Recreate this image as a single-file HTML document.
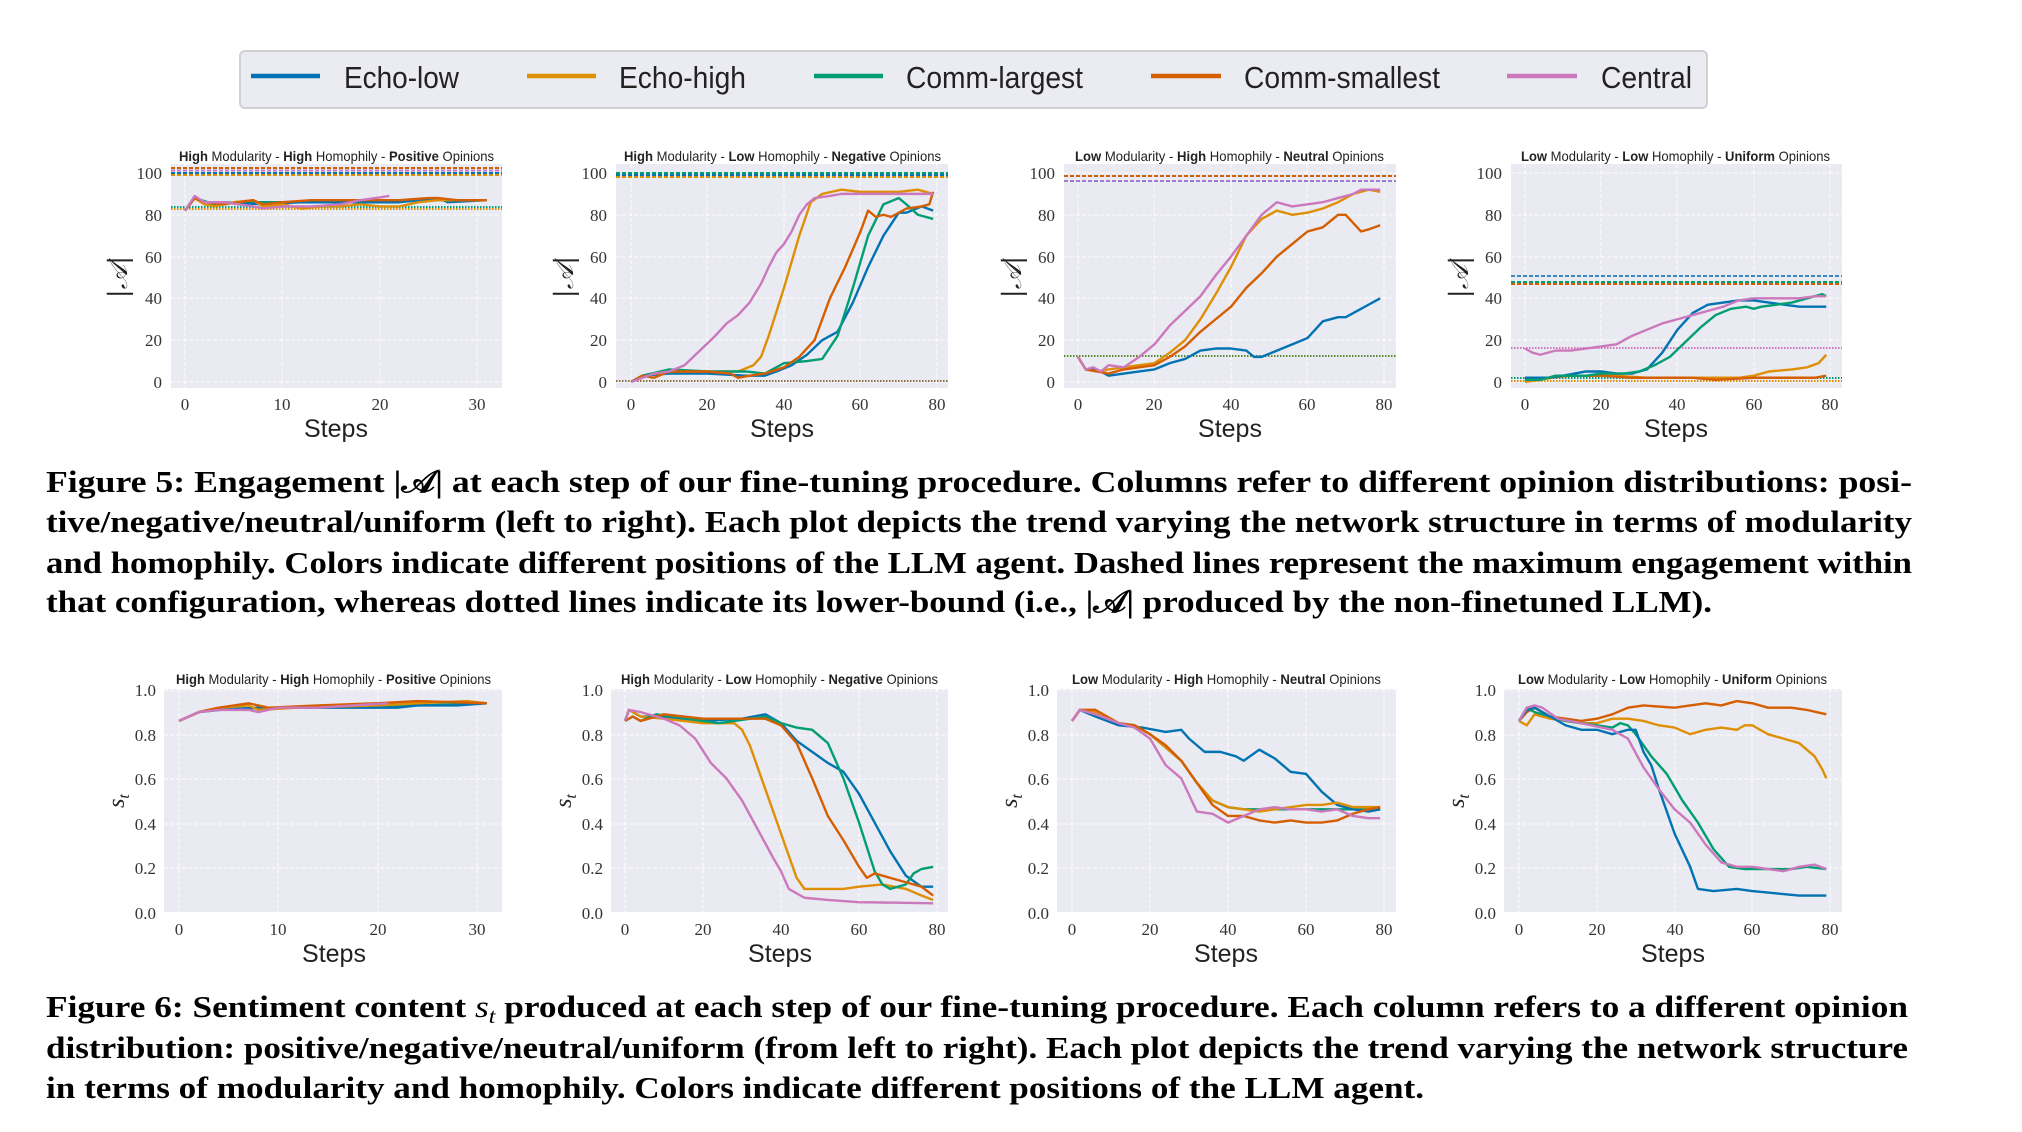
<!DOCTYPE html>
<html><head><meta charset="utf-8"><style>
html,body{margin:0;padding:0;background:#fff;}
svg{display:block;}
.tk{font-family:"Liberation Serif",serif;font-size:17px;fill:#333;}
.st{font-family:"Liberation Sans Narrow","Liberation Sans",sans-serif;font-size:25px;fill:#222;}
.ti{font-family:"Liberation Sans Narrow","Liberation Sans",sans-serif;font-size:14px;fill:#222;}
.cap{font-family:"Liberation Serif","DejaVu Serif",serif;font-size:31px;font-weight:bold;fill:#000;}
.lg{font-family:"Liberation Sans Narrow","Liberation Sans",sans-serif;font-size:31px;fill:#222;}
.d polyline{fill:none;stroke-width:2.4;vector-effect:non-scaling-stroke;stroke-linejoin:round;}
.b{stroke:#0173b2}.o{stroke:#de8f05}.g{stroke:#029e73}.r{stroke:#d55e00}.p{stroke:#cc78bc}
.grid line{stroke:#fff;stroke-width:1;stroke-dasharray:4,2;}
</style></head><body>
<svg width="2022" height="1132" viewBox="0 0 2022 1132" xmlns="http://www.w3.org/2000/svg">
<!-- Legend -->
<rect x="240" y="51" width="1467" height="57" rx="5" fill="#ebebf2" stroke="#cfcfd6" stroke-width="2"/>
<line x1="251" y1="76" x2="320" y2="76" stroke="#0173b2" stroke-width="4.5"/>
<text class="lg" x="344" y="88" textLength="115" lengthAdjust="spacingAndGlyphs">Echo-low</text>
<line x1="527" y1="76" x2="596" y2="76" stroke="#de8f05" stroke-width="4.5"/>
<text class="lg" x="619" y="88" textLength="127" lengthAdjust="spacingAndGlyphs">Echo-high</text>
<line x1="814" y1="76" x2="883" y2="76" stroke="#029e73" stroke-width="4.5"/>
<text class="lg" x="906" y="88" textLength="177" lengthAdjust="spacingAndGlyphs">Comm-largest</text>
<line x1="1151" y1="76" x2="1221" y2="76" stroke="#d55e00" stroke-width="4.5"/>
<text class="lg" x="1244" y="88" textLength="196" lengthAdjust="spacingAndGlyphs">Comm-smallest</text>
<line x1="1507" y1="76" x2="1577" y2="76" stroke="#cc78bc" stroke-width="4.5"/>
<text class="lg" x="1601" y="88" textLength="91" lengthAdjust="spacingAndGlyphs">Central</text>

<!-- ===== TOP ROW ===== -->
<g fill="#eaeaf2">
<rect x="171" y="164" width="331" height="224"/>
<rect x="616" y="164" width="332" height="224"/>
<rect x="1064" y="164" width="332" height="224"/>
<rect x="1511" y="164" width="331" height="224"/>
</g>
<g class="grid">
<line x1="171" x2="502" y1="382" y2="382"/><line x1="171" x2="502" y1="340" y2="340"/><line x1="171" x2="502" y1="298" y2="298"/><line x1="171" x2="502" y1="257" y2="257"/><line x1="171" x2="502" y1="215" y2="215"/><line x1="171" x2="502" y1="173" y2="173"/>
<line x1="185" x2="185" y1="164" y2="388"/><line x1="282" x2="282" y1="164" y2="388"/><line x1="380" x2="380" y1="164" y2="388"/><line x1="477" x2="477" y1="164" y2="388"/>
<line x1="616" x2="948" y1="382" y2="382"/><line x1="616" x2="948" y1="340" y2="340"/><line x1="616" x2="948" y1="298" y2="298"/><line x1="616" x2="948" y1="257" y2="257"/><line x1="616" x2="948" y1="215" y2="215"/><line x1="616" x2="948" y1="173" y2="173"/>
<line x1="631" x2="631" y1="164" y2="388"/><line x1="707" x2="707" y1="164" y2="388"/><line x1="784" x2="784" y1="164" y2="388"/><line x1="860" x2="860" y1="164" y2="388"/><line x1="937" x2="937" y1="164" y2="388"/>
<line x1="1064" x2="1396" y1="382" y2="382"/><line x1="1064" x2="1396" y1="340" y2="340"/><line x1="1064" x2="1396" y1="298" y2="298"/><line x1="1064" x2="1396" y1="257" y2="257"/><line x1="1064" x2="1396" y1="215" y2="215"/><line x1="1064" x2="1396" y1="173" y2="173"/>
<line x1="1078" x2="1078" y1="164" y2="388"/><line x1="1154" x2="1154" y1="164" y2="388"/><line x1="1231" x2="1231" y1="164" y2="388"/><line x1="1307" x2="1307" y1="164" y2="388"/><line x1="1384" x2="1384" y1="164" y2="388"/>
<line x1="1511" x2="1842" y1="382" y2="382"/><line x1="1511" x2="1842" y1="340" y2="340"/><line x1="1511" x2="1842" y1="298" y2="298"/><line x1="1511" x2="1842" y1="257" y2="257"/><line x1="1511" x2="1842" y1="215" y2="215"/><line x1="1511" x2="1842" y1="173" y2="173"/>
<line x1="1525" x2="1525" y1="164" y2="388"/><line x1="1601" x2="1601" y1="164" y2="388"/><line x1="1677" x2="1677" y1="164" y2="388"/><line x1="1754" x2="1754" y1="164" y2="388"/><line x1="1830" x2="1830" y1="164" y2="388"/>
</g>
<!-- reference lines top -->
<g stroke-width="2" fill="none">
<g stroke-dasharray="4,2">
<line x1="171" x2="502" y1="168" y2="168" stroke="#d55e00"/><line x1="171" x2="502" y1="170.5" y2="170.5" stroke="#cc78bc"/><line x1="171" x2="502" y1="173" y2="173" stroke="#0173b2"/><line x1="171" x2="502" y1="175" y2="175" stroke="#de8f05"/>
<line x1="616" x2="948" y1="173" y2="173" stroke="#029e73"/><line x1="616" x2="948" y1="175" y2="175" stroke="#0173b2"/><line x1="616" x2="948" y1="177" y2="177" stroke="#de8f05"/>
<line x1="1064" x2="1396" y1="176" y2="176" stroke="#d55e00"/><line x1="1064" x2="1396" y1="181" y2="181" stroke="#9a7fc8"/>
<line x1="1511" x2="1842" y1="276" y2="276" stroke="#3a8ac0"/><line x1="1511" x2="1842" y1="282" y2="282" stroke="#029e73"/><line x1="1511" x2="1842" y1="284" y2="284" stroke="#d55e00"/>
</g>
<g stroke-dasharray="1.5,1.5">
<line x1="171" x2="502" y1="207" y2="207" stroke="#029e73"/><line x1="171" x2="502" y1="209" y2="209" stroke="#de8f05"/>
<line x1="616" x2="948" y1="381" y2="381" stroke="#8a7040"/>
<line x1="1064" x2="1396" y1="356" y2="356" stroke="#5a8a30"/>
<line x1="1511" x2="1842" y1="348" y2="348" stroke="#cc78bc"/><line x1="1511" x2="1842" y1="378" y2="378" stroke="#029e73"/><line x1="1511" x2="1842" y1="381" y2="381" stroke="#de8f05"/>
</g>
</g>
<!-- series top -->
<svg class="d" x="171" y="164" width="331" height="224" viewBox="-1.44 -104.3 34.01 107.2" preserveAspectRatio="none">
<polyline class="g" points="0,-82 1,-88 3,-85 6,-86 10,-86 16,-86 20,-86 26,-87 31,-87"/>
<polyline class="b" points="0,-82 1,-88 2,-86 4,-86 8,-85 12,-86 16,-86 20,-86 22,-86 24,-87 26,-88 27,-86 31,-87"/>
<polyline class="o" points="0,-82 1,-88 2,-85 3,-84 5,-86 7,-87 8,-84 10,-85 12,-83 14,-84 16,-84 18,-85 20,-84 22,-84 24,-86 26,-87 28,-87 31,-87"/>
<polyline class="r" points="0,-82 1,-88 2,-86 4,-85 7,-87 8,-85 10,-86 13,-87 16,-87 20,-87 22,-87 25,-88 26,-88 28,-87 31,-87"/>
<polyline class="p" points="0,-82 1,-89 2,-86 4,-86 7,-84 8,-83 10,-84 13,-84 16,-85 18,-87 21,-89"/>
</svg>
<svg class="d" x="616" y="164" width="332" height="224" viewBox="-3.92 -104.3 86.8 107.2" preserveAspectRatio="none">
<polyline class="b" points="0,0 3,-3 10,-4 20,-4 30,-3 35,-3 38,-5 42,-8 46,-13 50,-20 54,-24 58,-38 62,-55 66,-70 70,-81 72,-81 76,-84 79,-82"/>
<polyline class="o" points="0,0 3,-3 10,-5 20,-5 28,-5 32,-8 34,-12 36,-22 40,-45 44,-70 47,-86 50,-90 55,-92 60,-91 70,-91 75,-92 79,-90"/>
<polyline class="g" points="0,0 3,-3 10,-6 20,-5 30,-5 35,-4 38,-7 40,-9 46,-10 50,-11 54,-22 58,-45 62,-70 66,-85 70,-88 72,-85 75,-80 79,-78"/>
<polyline class="r" points="0,0 3,-3 6,-2 10,-5 20,-5 26,-4 28,-2 31,-3 35,-4 40,-7 44,-12 48,-20 52,-40 56,-55 60,-72 62,-82 64,-79 66,-80 68,-79 72,-83 76,-84 78,-85 79,-91"/>
<polyline class="p" points="0,0 3,-2 6,-4 10,-5 14,-8 18,-15 22,-22 25,-28 28,-32 31,-38 34,-47 36,-55 38,-62 40,-66 42,-72 44,-80 46,-85 48,-88 52,-89 55,-90 60,-90 79,-90"/>
</svg>
<svg class="d" x="1064" y="164" width="332" height="224" viewBox="-3.66 -104.3 86.8 107.2" preserveAspectRatio="none">
<polyline class="b" points="0,-12 2,-6 4,-6 6,-5 8,-3 12,-4 16,-5 20,-6 24,-9 28,-11 32,-15 36,-16 40,-16 44,-15 46,-12 48,-12 52,-15 56,-18 60,-21 62,-25 64,-29 68,-31 70,-31 74,-35 76,-37 79,-40"/>
<polyline class="o" points="0,-12 2,-6 5,-5 8,-6 12,-7 16,-8 20,-9 24,-14 28,-20 32,-30 36,-42 40,-55 44,-70 48,-78 52,-82 56,-80 60,-81 64,-83 68,-86 72,-90 76,-92 79,-91"/>
<polyline class="r" points="0,-12 2,-6 5,-5 8,-4 12,-6 16,-7 20,-8 24,-12 28,-17 32,-24 36,-30 40,-36 44,-45 48,-52 52,-60 56,-66 60,-72 64,-74 68,-80 70,-80 72,-76 74,-72 76,-73 79,-75"/>
<polyline class="p" points="0,-12 2,-6 4,-7 6,-5 8,-8 12,-7 16,-12 20,-18 24,-27 28,-34 32,-41 36,-51 40,-60 44,-70 48,-80 52,-86 56,-84 60,-85 64,-86 68,-88 72,-90 74,-92 79,-92"/>
</svg>
<svg class="d" x="1511" y="164" width="331" height="224" viewBox="-3.66 -104.3 86.8 107.2" preserveAspectRatio="none">
<polyline class="o" points="0,0 4,-1 10,-3 16,-3 24,-3 32,-2 40,-2 50,-2 56,-2 60,-3 64,-5 70,-6 74,-7 77,-9 79,-13"/>
<polyline class="r" points="0,-1 6,-2 12,-3 20,-3 28,-2 36,-2 44,-2 50,-1 60,-2 70,-2 76,-2 79,-3"/>
<polyline class="b" points="0,-2 6,-2 10,-3 16,-5 20,-5 24,-4 28,-4 32,-6 36,-14 40,-25 44,-33 48,-37 52,-38 56,-39 60,-39 64,-38 68,-37 72,-36 79,-36"/>
<polyline class="g" points="0,-1 4,-1 8,-3 12,-3 16,-3 20,-4 26,-4 30,-5 34,-8 38,-12 42,-19 46,-26 50,-32 54,-35 58,-36 60,-35 62,-36 66,-37 70,-38 74,-40 76,-41 78,-42 79,-41"/>
<polyline class="p" points="0,-16 2,-14 4,-13 8,-15 12,-15 16,-16 20,-17 24,-18 28,-22 32,-25 36,-28 40,-30 44,-32 48,-34 52,-36 56,-39 60,-40 66,-40 72,-40 76,-41 79,-41"/>
</svg>
<!-- top ticks -->
<g class="tk" text-anchor="end">
<text x="162" y="388">0</text><text x="162" y="346">20</text><text x="162" y="304">40</text><text x="162" y="263">60</text><text x="162" y="221">80</text><text x="162" y="179">100</text>
<text x="607" y="388">0</text><text x="607" y="346">20</text><text x="607" y="304">40</text><text x="607" y="263">60</text><text x="607" y="221">80</text><text x="607" y="179">100</text>
<text x="1055" y="388">0</text><text x="1055" y="346">20</text><text x="1055" y="304">40</text><text x="1055" y="263">60</text><text x="1055" y="221">80</text><text x="1055" y="179">100</text>
<text x="1502" y="388">0</text><text x="1502" y="346">20</text><text x="1502" y="304">40</text><text x="1502" y="263">60</text><text x="1502" y="221">80</text><text x="1502" y="179">100</text>
</g>
<g class="tk" text-anchor="middle">
<text x="185" y="410">0</text><text x="282" y="410">10</text><text x="380" y="410">20</text><text x="477" y="410">30</text>
<text x="631" y="410">0</text><text x="707" y="410">20</text><text x="784" y="410">40</text><text x="860" y="410">60</text><text x="937" y="410">80</text>
<text x="1078" y="410">0</text><text x="1154" y="410">20</text><text x="1231" y="410">40</text><text x="1307" y="410">60</text><text x="1384" y="410">80</text>
<text x="1525" y="410">0</text><text x="1601" y="410">20</text><text x="1677" y="410">40</text><text x="1754" y="410">60</text><text x="1830" y="410">80</text>
</g>
<g class="st" text-anchor="middle">
<text x="336" y="437">Steps</text><text x="782" y="437">Steps</text><text x="1230" y="437">Steps</text><text x="1676" y="437">Steps</text>
</g>
<g font-family="DejaVu Serif, serif" font-size="26" font-style="italic" fill="#222" text-anchor="middle">
<text transform="translate(127,277) rotate(-90)">|𝒜|</text>
<text transform="translate(573,277) rotate(-90)">|𝒜|</text>
<text transform="translate(1021,277) rotate(-90)">|𝒜|</text>
<text transform="translate(1468,277) rotate(-90)">|𝒜|</text>
</g>
<g class="ti">
<text x="179" y="161" textLength="315" lengthAdjust="spacingAndGlyphs"><tspan font-weight="bold">High</tspan> Modularity - <tspan font-weight="bold">High</tspan> Homophily - <tspan font-weight="bold">Positive</tspan> Opinions</text>
<text x="624" y="161" textLength="317" lengthAdjust="spacingAndGlyphs"><tspan font-weight="bold">High</tspan> Modularity - <tspan font-weight="bold">Low</tspan> Homophily - <tspan font-weight="bold">Negative</tspan> Opinions</text>
<text x="1075" y="161" textLength="309" lengthAdjust="spacingAndGlyphs"><tspan font-weight="bold">Low</tspan> Modularity - <tspan font-weight="bold">High</tspan> Homophily - <tspan font-weight="bold">Neutral</tspan> Opinions</text>
<text x="1521" y="161" textLength="309" lengthAdjust="spacingAndGlyphs"><tspan font-weight="bold">Low</tspan> Modularity - <tspan font-weight="bold">Low</tspan> Homophily - <tspan font-weight="bold">Uniform</tspan> Opinions</text>
</g>

<!-- Caption 5 -->
<g class="cap">
<text x="46" y="492" textLength="1866" lengthAdjust="spacingAndGlyphs">Figure 5: Engagement |𝒜| at each step of our fine-tuning procedure. Columns refer to different opinion distributions: posi-</text>
<text x="46" y="532" textLength="1866" lengthAdjust="spacingAndGlyphs">tive/negative/neutral/uniform (left to right). Each plot depicts the trend varying the network structure in terms of modularity</text>
<text x="46" y="573" textLength="1866" lengthAdjust="spacingAndGlyphs">and homophily. Colors indicate different positions of the LLM agent. Dashed lines represent the maximum engagement within</text>
<text x="46" y="612" textLength="1666" lengthAdjust="spacingAndGlyphs">that configuration, whereas dotted lines indicate its lower-bound (i.e., |𝒜| produced by the non-finetuned LLM).</text>
</g>

<!-- ===== BOTTOM ROW ===== -->
<g fill="#eaeaf2">
<rect x="164" y="689" width="338" height="223"/>
<rect x="611" y="689" width="337" height="223"/>
<rect x="1057" y="689" width="339" height="223"/>
<rect x="1504" y="689" width="338" height="223"/>
</g>
<g class="grid">
<line x1="164" x2="502" y1="913" y2="913"/><line x1="164" x2="502" y1="868" y2="868"/><line x1="164" x2="502" y1="824" y2="824"/><line x1="164" x2="502" y1="779" y2="779"/><line x1="164" x2="502" y1="735" y2="735"/><line x1="164" x2="502" y1="690" y2="690"/>
<line x1="179" x2="179" y1="689" y2="912"/><line x1="278" x2="278" y1="689" y2="912"/><line x1="378" x2="378" y1="689" y2="912"/><line x1="477" x2="477" y1="689" y2="912"/>
<line x1="611" x2="948" y1="913" y2="913"/><line x1="611" x2="948" y1="868" y2="868"/><line x1="611" x2="948" y1="824" y2="824"/><line x1="611" x2="948" y1="779" y2="779"/><line x1="611" x2="948" y1="735" y2="735"/><line x1="611" x2="948" y1="690" y2="690"/>
<line x1="625" x2="625" y1="689" y2="912"/><line x1="703" x2="703" y1="689" y2="912"/><line x1="781" x2="781" y1="689" y2="912"/><line x1="859" x2="859" y1="689" y2="912"/><line x1="937" x2="937" y1="689" y2="912"/>
<line x1="1057" x2="1396" y1="913" y2="913"/><line x1="1057" x2="1396" y1="868" y2="868"/><line x1="1057" x2="1396" y1="824" y2="824"/><line x1="1057" x2="1396" y1="779" y2="779"/><line x1="1057" x2="1396" y1="735" y2="735"/><line x1="1057" x2="1396" y1="690" y2="690"/>
<line x1="1072" x2="1072" y1="689" y2="912"/><line x1="1150" x2="1150" y1="689" y2="912"/><line x1="1228" x2="1228" y1="689" y2="912"/><line x1="1306" x2="1306" y1="689" y2="912"/><line x1="1384" x2="1384" y1="689" y2="912"/>
<line x1="1504" x2="1842" y1="913" y2="913"/><line x1="1504" x2="1842" y1="868" y2="868"/><line x1="1504" x2="1842" y1="824" y2="824"/><line x1="1504" x2="1842" y1="779" y2="779"/><line x1="1504" x2="1842" y1="735" y2="735"/><line x1="1504" x2="1842" y1="690" y2="690"/>
<line x1="1519" x2="1519" y1="689" y2="912"/><line x1="1597" x2="1597" y1="689" y2="912"/><line x1="1675" x2="1675" y1="689" y2="912"/><line x1="1752" x2="1752" y1="689" y2="912"/><line x1="1830" x2="1830" y1="689" y2="912"/>
</g>
<svg class="d" x="164" y="689" width="338" height="223" viewBox="-1.51 -1.0045 34.04 1.009" preserveAspectRatio="none">
<polyline class="g" points="0,-0.86 2,-0.9 4,-0.91 8,-0.92 14,-0.92 20,-0.93 24,-0.93 31,-0.94"/>
<polyline class="b" points="0,-0.86 2,-0.9 4,-0.91 8,-0.92 12,-0.92 16,-0.92 20,-0.92 22,-0.92 24,-0.93 28,-0.93 31,-0.94"/>
<polyline class="o" points="0,-0.86 2,-0.9 4,-0.92 7,-0.93 8,-0.91 12,-0.92 20,-0.93 24,-0.94 29,-0.95 31,-0.94"/>
<polyline class="r" points="0,-0.86 2,-0.9 4,-0.92 7,-0.94 9,-0.92 14,-0.93 20,-0.94 24,-0.95 31,-0.94"/>
<polyline class="p" points="0,-0.86 2,-0.9 4,-0.91 7,-0.91 8,-0.9 10,-0.92 14,-0.92 21,-0.94"/>
</svg>
<svg class="d" x="611" y="689" width="337" height="223" viewBox="-3.59 -1.0045 86.4 1.009" preserveAspectRatio="none">
<polyline class="b" points="0,-0.86 1,-0.91 4,-0.88 10,-0.88 20,-0.86 30,-0.87 36,-0.89 40,-0.85 44,-0.77 48,-0.72 52,-0.67 56,-0.63 60,-0.53 64,-0.4 68,-0.27 72,-0.16 76,-0.11 79,-0.11"/>
<polyline class="o" points="0,-0.86 1,-0.91 4,-0.88 10,-0.87 20,-0.85 28,-0.85 30,-0.82 32,-0.75 36,-0.55 40,-0.35 42,-0.25 44,-0.15 46,-0.1 50,-0.1 56,-0.1 60,-0.11 66,-0.12 72,-0.1 76,-0.07 79,-0.05"/>
<polyline class="g" points="0,-0.86 2,-0.88 4,-0.86 8,-0.89 16,-0.87 24,-0.85 36,-0.88 40,-0.85 44,-0.83 48,-0.82 52,-0.76 56,-0.6 60,-0.4 64,-0.18 66,-0.12 68,-0.1 72,-0.12 74,-0.17 76,-0.19 79,-0.2"/>
<polyline class="r" points="0,-0.86 2,-0.88 4,-0.86 10,-0.89 20,-0.87 30,-0.87 36,-0.87 40,-0.84 44,-0.76 48,-0.6 52,-0.43 56,-0.32 60,-0.2 62,-0.15 64,-0.17 68,-0.15 72,-0.13 76,-0.11 79,-0.07"/>
<polyline class="p" points="0,-0.86 1,-0.91 4,-0.9 10,-0.87 14,-0.84 18,-0.78 22,-0.67 26,-0.6 30,-0.5 34,-0.37 38,-0.24 40,-0.18 42,-0.1 46,-0.06 52,-0.05 60,-0.04 79,-0.035"/>
</svg>
<svg class="d" x="1057" y="689" width="339" height="223" viewBox="-3.85 -1.0045 86.9 1.009" preserveAspectRatio="none">
<polyline class="g" points="0,-0.86 2,-0.91 6,-0.9 12,-0.85 16,-0.84 20,-0.8 24,-0.74 28,-0.68 32,-0.58 36,-0.5 40,-0.47 44,-0.46 79,-0.46"/>
<polyline class="b" points="0,-0.86 2,-0.91 6,-0.88 12,-0.84 18,-0.83 24,-0.81 28,-0.82 30,-0.78 34,-0.72 38,-0.72 42,-0.7 44,-0.68 48,-0.73 52,-0.69 56,-0.63 60,-0.62 64,-0.54 68,-0.48 72,-0.46 76,-0.45 79,-0.46"/>
<polyline class="o" points="0,-0.86 2,-0.91 6,-0.9 12,-0.85 16,-0.84 20,-0.8 24,-0.74 28,-0.68 32,-0.58 36,-0.5 40,-0.47 44,-0.46 48,-0.45 52,-0.46 56,-0.47 60,-0.48 64,-0.48 68,-0.49 72,-0.47 79,-0.47"/>
<polyline class="r" points="0,-0.86 2,-0.91 6,-0.91 12,-0.85 16,-0.84 20,-0.8 24,-0.75 28,-0.68 32,-0.58 36,-0.48 40,-0.43 44,-0.43 48,-0.41 52,-0.4 56,-0.41 60,-0.4 64,-0.4 68,-0.41 72,-0.44 76,-0.46 79,-0.47"/>
<polyline class="p" points="0,-0.86 2,-0.91 6,-0.89 12,-0.85 16,-0.83 20,-0.78 24,-0.66 28,-0.6 32,-0.45 36,-0.44 38,-0.42 40,-0.4 44,-0.43 48,-0.46 52,-0.47 56,-0.46 60,-0.46 64,-0.45 68,-0.46 72,-0.43 76,-0.42 79,-0.42"/>
</svg>
<svg class="d" x="1504" y="689" width="338" height="223" viewBox="-3.86 -1.0045 86.9 1.009" preserveAspectRatio="none">
<polyline class="r" points="0,-0.86 2,-0.9 4,-0.92 8,-0.88 12,-0.87 16,-0.86 20,-0.87 24,-0.89 28,-0.92 32,-0.93 40,-0.92 44,-0.93 48,-0.94 52,-0.93 56,-0.95 60,-0.94 64,-0.92 70,-0.92 74,-0.91 79,-0.89"/>
<polyline class="o" points="0,-0.86 2,-0.84 4,-0.89 8,-0.87 12,-0.86 16,-0.85 20,-0.85 24,-0.87 28,-0.87 32,-0.86 36,-0.84 40,-0.83 44,-0.8 48,-0.82 52,-0.83 56,-0.82 58,-0.84 60,-0.84 64,-0.8 68,-0.78 72,-0.76 74,-0.73 76,-0.7 78,-0.64 79,-0.6"/>
<polyline class="g" points="0,-0.86 2,-0.92 4,-0.9 8,-0.88 12,-0.86 16,-0.85 20,-0.84 24,-0.83 26,-0.85 28,-0.84 30,-0.8 34,-0.7 38,-0.62 42,-0.5 46,-0.4 50,-0.28 54,-0.2 58,-0.19 62,-0.19 66,-0.19 70,-0.19 74,-0.2 79,-0.19"/>
<polyline class="b" points="0,-0.86 2,-0.91 4,-0.92 8,-0.88 12,-0.84 16,-0.82 20,-0.82 24,-0.8 28,-0.82 30,-0.82 32,-0.72 34,-0.66 36,-0.55 38,-0.45 40,-0.35 44,-0.2 46,-0.1 50,-0.09 56,-0.1 60,-0.09 66,-0.08 72,-0.07 79,-0.07"/>
<polyline class="p" points="0,-0.86 2,-0.92 4,-0.93 6,-0.92 10,-0.87 16,-0.85 24,-0.82 28,-0.78 32,-0.65 36,-0.55 40,-0.46 44,-0.4 48,-0.3 52,-0.22 56,-0.2 60,-0.2 64,-0.19 68,-0.18 72,-0.2 76,-0.21 79,-0.19"/>
</svg>
<g class="tk" text-anchor="end">
<text x="156" y="919">0.0</text><text x="156" y="874">0.2</text><text x="156" y="830">0.4</text><text x="156" y="785">0.6</text><text x="156" y="741">0.8</text><text x="156" y="696">1.0</text>
<text x="603" y="919">0.0</text><text x="603" y="874">0.2</text><text x="603" y="830">0.4</text><text x="603" y="785">0.6</text><text x="603" y="741">0.8</text><text x="603" y="696">1.0</text>
<text x="1049" y="919">0.0</text><text x="1049" y="874">0.2</text><text x="1049" y="830">0.4</text><text x="1049" y="785">0.6</text><text x="1049" y="741">0.8</text><text x="1049" y="696">1.0</text>
<text x="1496" y="919">0.0</text><text x="1496" y="874">0.2</text><text x="1496" y="830">0.4</text><text x="1496" y="785">0.6</text><text x="1496" y="741">0.8</text><text x="1496" y="696">1.0</text>
</g>
<g class="tk" text-anchor="middle">
<text x="179" y="935">0</text><text x="278" y="935">10</text><text x="378" y="935">20</text><text x="477" y="935">30</text>
<text x="625" y="935">0</text><text x="703" y="935">20</text><text x="781" y="935">40</text><text x="859" y="935">60</text><text x="937" y="935">80</text>
<text x="1072" y="935">0</text><text x="1150" y="935">20</text><text x="1228" y="935">40</text><text x="1306" y="935">60</text><text x="1384" y="935">80</text>
<text x="1519" y="935">0</text><text x="1597" y="935">20</text><text x="1675" y="935">40</text><text x="1752" y="935">60</text><text x="1830" y="935">80</text>
</g>
<g class="st" text-anchor="middle">
<text x="334" y="962">Steps</text><text x="780" y="962">Steps</text><text x="1226" y="962">Steps</text><text x="1673" y="962">Steps</text>
</g>
<g font-family="Liberation Serif, serif" font-size="24" font-style="italic" fill="#222" text-anchor="middle">
<text transform="translate(124,801) rotate(-90)">s<tspan font-size="16" dy="5">t</tspan></text>
<text transform="translate(571,801) rotate(-90)">s<tspan font-size="16" dy="5">t</tspan></text>
<text transform="translate(1017,801) rotate(-90)">s<tspan font-size="16" dy="5">t</tspan></text>
<text transform="translate(1464,801) rotate(-90)">s<tspan font-size="16" dy="5">t</tspan></text>
</g>
<g class="ti">
<text x="176" y="684" textLength="315" lengthAdjust="spacingAndGlyphs"><tspan font-weight="bold">High</tspan> Modularity - <tspan font-weight="bold">High</tspan> Homophily - <tspan font-weight="bold">Positive</tspan> Opinions</text>
<text x="621" y="684" textLength="317" lengthAdjust="spacingAndGlyphs"><tspan font-weight="bold">High</tspan> Modularity - <tspan font-weight="bold">Low</tspan> Homophily - <tspan font-weight="bold">Negative</tspan> Opinions</text>
<text x="1072" y="684" textLength="309" lengthAdjust="spacingAndGlyphs"><tspan font-weight="bold">Low</tspan> Modularity - <tspan font-weight="bold">High</tspan> Homophily - <tspan font-weight="bold">Neutral</tspan> Opinions</text>
<text x="1518" y="684" textLength="309" lengthAdjust="spacingAndGlyphs"><tspan font-weight="bold">Low</tspan> Modularity - <tspan font-weight="bold">Low</tspan> Homophily - <tspan font-weight="bold">Uniform</tspan> Opinions</text>
</g>

<!-- Caption 6 -->
<g class="cap">
<text x="46" y="1017" textLength="1862" lengthAdjust="spacingAndGlyphs">Figure 6: Sentiment content <tspan font-style="italic" font-weight="normal">s</tspan><tspan font-style="italic" font-weight="normal" font-size="21" dy="6">t</tspan><tspan dy="-6"> produced at each step of our fine-tuning procedure. Each column refers to a different opinion</tspan></text>
<text x="46" y="1058" textLength="1862" lengthAdjust="spacingAndGlyphs">distribution: positive/negative/neutral/uniform (from left to right). Each plot depicts the trend varying the network structure</text>
<text x="46" y="1098" textLength="1378" lengthAdjust="spacingAndGlyphs">in terms of modularity and homophily. Colors indicate different positions of the LLM agent.</text>
</g>
</svg>
</body></html>
